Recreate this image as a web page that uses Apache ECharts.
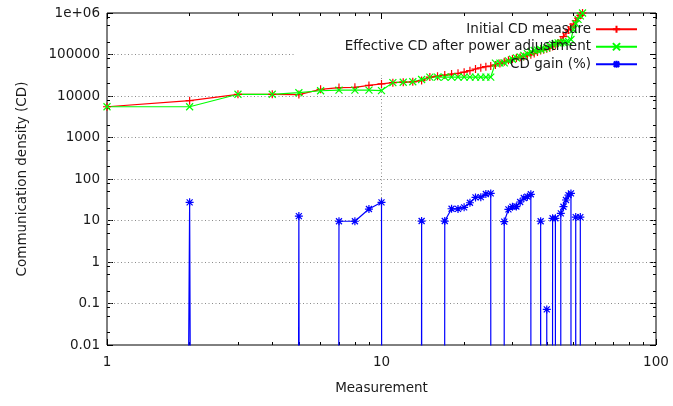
<!DOCTYPE html>
<html><head><meta charset="utf-8">
<script src="https://cdn.jsdelivr.net/npm/echarts@6/dist/echarts.min.js"></script>
<style>html,body{margin:0;padding:0;background:#fff}#c{width:673px;height:406px}</style>
</head><body><div id="c"></div>
<script>
// ---- data ----
const measurements = [1,2,3,4,5,6,7,8,9,10,11,12,13,14,15,16,17,18,19,20,21,22,23,24,25,26,27,28,29,30,31,32,33,34,35,36,37,38,39,40,41,42,43,44,45,46,47,48,49,50,51,52,53,54];
const initialCD = [5500,7700,11000,11000,10800,14500,16000,16200,18000,19500,21000,21500,22000,23500,28500,30000,32000,33800,35200,37600,40700,44700,48000,50800,52800,56000,61000,67000,73000,78000,82000,86000,90000,94000,98000,105000,115000,125000,130000,138000,145000,155000,170000,190000,220000,270000,330000,390000,460000,540000,650000,750000,880000,1000000];
const effectiveCD = [5500,5500,11000,11000,12000,13400,13900,13900,13900,13500,21000,21500,22000,25000,28500,28500,28500,28500,28500,28500,28500,28500,28500,28500,28500,62000,62000,63000,70000,77000,83000,88000,95000,105000,115000,125000,128000,132000,138000,145000,160000,175000,185000,190000,190000,195000,200000,205000,230000,400000,550000,700000,850000,1000000];
const cdGain = [0,27.4,0,0,12.8,0,9.6,9.6,18.9,27.4,0,0,0,9.7,0,0,9.7,19.2,19,20.8,26.8,36,36.5,43.5,45,0,0,9.4,18.6,21.5,21.7,27.9,34.8,37.5,42.8,0,0,9.6,0,0.072,0,11.3,11.3,0,14.9,21.5,31.2,41,45,0,12.1,0,12.1,0];
const seriesNames = ['Initial CD measure','Effective CD after power adjustment','CD gain (%)'];
const xMajorTicks = [1,10,100];
const xTickLabels = ['1','10','100'];
const xMinorTicks = [2,3,4,5,6,7,8,9,20,30,40,50,60,70,80,90];
const yMajorTicks = [0.01,0.1,1,10,100,1000,10000,100000,1000000];
const yTickLabels = ['0.01','0.1','1','10','100','1000','10000','100000','1e+06'];
const yMinorTicks = [0.02,0.05,0.08,0.2,0.5,0.8,2,5,8,20,50,80,200,500,800,2000,5000,8000,20000,50000,80000,200000,500000,800000];

// ---- styling / helpers ----
const FONT = 'DejaVu Sans';
const FS = 13.5;
const TXT = '#1a1a1a';
const ZERO_GAIN = 1e-300; // zero gain drawn like gnuplot (drops to the bottom)
const PLUS = 'path://M0,-1L0,1M-1,0L1,0';
const CROSS = 'path://M-1,-1L1,1M-1,1L1,-1';
const STAR = 'path://M0,-1L0,1M-1,0L1,0M-0.75,-0.75L0.75,0.75M-0.75,0.75L0.75,-0.75';

const xLabelMap = {}; xMajorTicks.forEach((v,i)=>xLabelMap[v]=xTickLabels[i]);
const yLabelMap = {}; yMajorTicks.forEach((v,i)=>yLabelMap[v]=yTickLabels[i]);
const fmt = (map) => (v) => { for (const k in map) { if (Math.abs(Math.log10(+k) - Math.log10(v)) < 1e-6) return map[k]; } return ''; };

function tickAxis(pos, ticks, len, base) {
  return Object.assign({
    type: 'log', logBase: 10, position: pos, gridIndex: 0,
    axisLine: {show: false},
    axisTick: {show: true, inside: true, length: len, customValues: ticks, lineStyle: {color: '#000', width: 1}},
    axisLabel: {show: false},
    splitLine: {show: false}
  }, base);
}
const xBase = {min: 1, max: 100};
const yBase = {min: 0.01, max: 1000000};

const gridDash = {color: '#8a8a8a', width: 1, type: [1, 2.5]};
const gridLines = [];
[0.1, 1, 10, 100, 1000, 10000].forEach(v => gridLines.push([{coord: [1, v]}, {coord: [100, v]}]));
gridLines.push([{coord: [1, 100000]}, {coord: [4.8, 100000]}]);
gridLines.push([{coord: [10, 0.01]}, {coord: [10, 32000]}]);

const mk = (arr) => measurements.map((x, i) => [x, arr[i]]);

const chart = echarts.init(document.getElementById('c'), null, {renderer: 'canvas'});
chart.setOption({
  animation: false,
  backgroundColor: '#fff',
  textStyle: {fontFamily: FONT},
  grid: {left: 107, right: 17, top: 13, bottom: 61, show: true, borderColor: '#000', borderWidth: 1, backgroundColor: 'transparent'},
  legend: {
    data: seriesNames, orient: 'vertical', right: 35, top: 20.5, align: 'right', padding: 0,
    itemWidth: 41, itemHeight: 9, itemGap: 0,
    textStyle: {fontFamily: FONT, fontSize: FS, color: TXT, lineHeight: 17.5},
    selectedMode: false
  },
  xAxis: [
    Object.assign(tickAxis('bottom', xMajorTicks, 6, xBase), {
      name: 'Measurement', nameLocation: 'middle', nameGap: 36,
      nameTextStyle: {fontFamily: FONT, fontSize: FS, color: TXT},
      axisLabel: {show: true, customValues: xMajorTicks, margin: 10, fontFamily: FONT, fontSize: FS, color: TXT, formatter: fmt(xLabelMap)}
    }),
    tickAxis('bottom', xMinorTicks, 3, xBase),
    tickAxis('top', xMajorTicks, 6, xBase),
    tickAxis('top', xMinorTicks, 3, xBase)
  ],
  yAxis: [
    Object.assign(tickAxis('left', yMajorTicks, 6, yBase), {
      name: 'Communication density (CD)', nameLocation: 'middle', nameGap: 78,
      nameTextStyle: {fontFamily: FONT, fontSize: FS, color: TXT},
      axisLabel: {show: true, customValues: yMajorTicks, margin: 7, fontFamily: FONT, fontSize: FS, color: TXT, formatter: fmt(yLabelMap)}
    }),
    tickAxis('left', yMinorTicks, 3, yBase),
    tickAxis('right', yMajorTicks, 6, yBase),
    tickAxis('right', yMinorTicks, 3, yBase)
  ],
  series: [
    {
      name: seriesNames[0], type: 'line', xAxisIndex: 0, yAxisIndex: 0,
      data: mk(initialCD), clip: true,
      symbol: PLUS, symbolSize: 8,
      lineStyle: {color: '#ff0000', width: 1.2},
      itemStyle: {color: '#ff0000', borderColor: '#ff0000', borderWidth: 1.2},
      emphasis: {disabled: true},
      markLine: {silent: true, symbol: ['none','none'], z: 1, label: {show: false}, lineStyle: gridDash, data: gridLines, animation: false}
    },
    {
      name: seriesNames[1], type: 'line', xAxisIndex: 0, yAxisIndex: 0,
      data: mk(effectiveCD), clip: true,
      symbol: CROSS, symbolSize: 7,
      lineStyle: {color: '#00ff00', width: 1.2},
      itemStyle: {color: '#00ff00', borderColor: '#00ff00', borderWidth: 1.2},
      emphasis: {disabled: true}
    },
    {
      name: seriesNames[2], type: 'line', xAxisIndex: 0, yAxisIndex: 0,
      data: measurements.map((x, i) => [x, cdGain[i] > 0 ? cdGain[i] : ZERO_GAIN]), clip: true,
      symbol: STAR, symbolSize: 8,
      lineStyle: {color: '#0000ff', width: 1.2},
      itemStyle: {color: '#0000ff', borderColor: '#0000ff', borderWidth: 1.2},
      emphasis: {disabled: true}
    }
  ]
});
</script></body></html>
